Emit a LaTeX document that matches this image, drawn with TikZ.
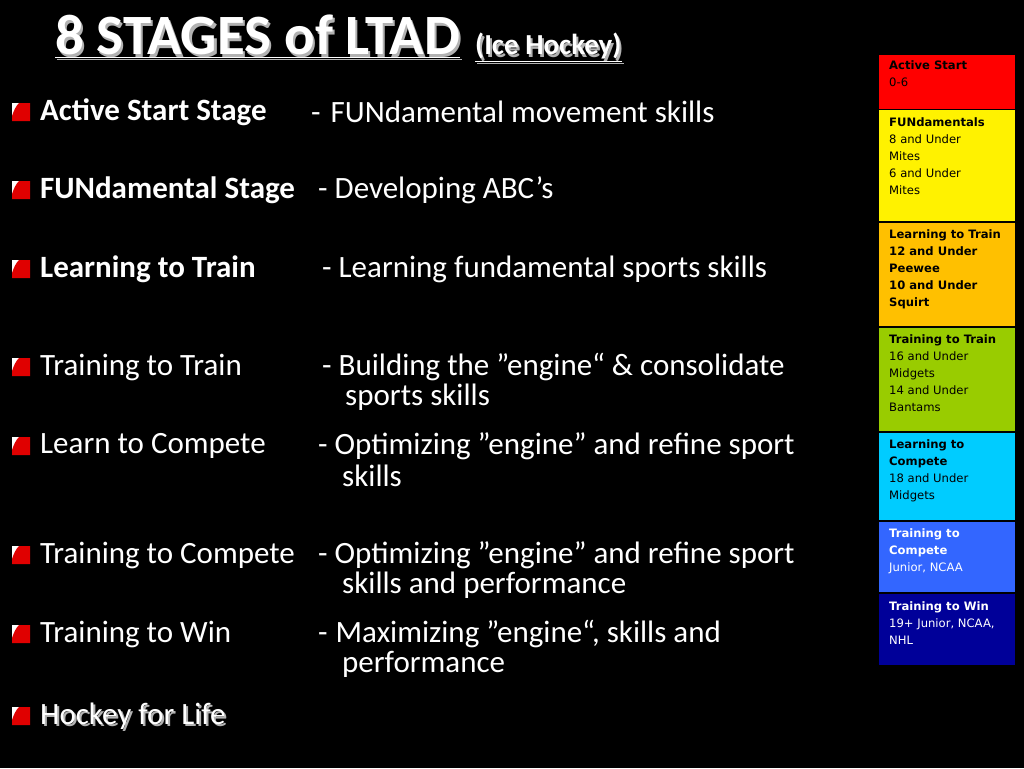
\documentclass[tikz,border=0pt]{standalone}
\usepackage{fontspec}
\setmainfont{Carlito}
\newfontfamily\panelfont{DejaVu Sans}
\definecolor{porange}{HTML}{FFC000}
\definecolor{pgreen}{HTML}{99CC00}
\definecolor{pcyan}{HTML}{00CCFF}
\definecolor{pblue}{HTML}{3366FF}
\definecolor{pnavy}{HTML}{000099}
\definecolor{bred}{HTML}{E00000}
\begin{document}
\begin{tikzpicture}[x=1pt,y=-1pt,
  lab/.style={anchor=west,text=white,font=\fontsize{31}{36}\selectfont,inner sep=0},
  pbox/.style={anchor=north west,minimum width=136,inner sep=0,outer sep=0},
  ptxt/.style={anchor=north west,font=\panelfont\fontsize{11.6}{17}\selectfont,align=left,inner sep=0}]
\fill[black] (0,0) rectangle (1024,768);
\useasboundingbox (0,0) rectangle (1024,768);
% title
\node[anchor=base west,text=gray!60,inner sep=0,font=\bfseries\fontsize{57}{64}\selectfont] at (57,57) {\underline{8 STAGES of LTAD}};
\node[anchor=base west,text=white,inner sep=0,font=\bfseries\fontsize{57}{64}\selectfont] (title) at (55,55) {\underline{8 STAGES of LTAD}};
\node[anchor=base west,text=gray!60,inner sep=0,font=\bfseries\fontsize{29}{34}\selectfont] at (477,57) {\underline{(Ice Hockey)}};
\node[anchor=base west,text=white,inner sep=0,font=\bfseries\fontsize{29}{34}\selectfont] (sub) at (475,55) {\underline{(Ice Hockey)}};
% bullets
\foreach \y in {112,190,269,367,446,555,634,716}{
  \fill[white] (12,\y-9) rectangle (30,\y+9);
  \fill[bred] (19,\y-9) -- (30,\y-9) -- (30,\y+9) -- (12,\y+9) -- (12,\y+4) .. controls (14,\y-2) and (16,\y-6) .. (19,\y-9);
}
% labels
\node[lab,font=\bfseries\fontsize{31}{36}\selectfont] (l1) at (40,112) {Active Start Stage};
\node[lab,font=\bfseries\fontsize{31}{36}\selectfont] (l2) at (40,190) {FUNdamental Stage};
\node[lab,font=\bfseries\fontsize{31}{36}\selectfont] (l3) at (40,269) {Learning to Train};
\node[lab] (l4) at (40,367) {Training to Train};
\node[lab] (l5) at (40,446) {Learn to Compete};
\node[lab] (l6) at (40,555) {Training to Compete};
\node[lab] (l7) at (40,634) {Training to Win};
\node[lab,text=gray!60] at (42,718) {Hockey for Life};
\node[lab] (l8) at (40,716) {Hockey for Life};
% descriptions
\node[lab] (d1) at (311,112) {-\hspace{10pt}FUNdamental movement skills};
\node[lab] (d2) at (318,190) {- Developing ABC’s};
\node[lab] (d3) at (322,269) {- Learning fundamental sports skills};
\node[lab] (d4) at (322,367) {- Building the {\char34}engine“ \& consolidate};
\node[lab] (d4b) at (345,397) {sports skills};
\node[lab] (d5) at (318,446) {- Optimizing {\char34}engine{\char34} and refine sport};
\node[lab] (d5b) at (342,476) {skills};
\node[lab] (d6) at (318,555) {- Optimizing {\char34}engine{\char34} and refine sport};
\node[lab] (d6b) at (342,585) {skills and performance};
\node[lab] (d7) at (318,634) {-\hspace{8pt}Maximizing {\char34}engine“, skills and};
\node[lab] (d7b) at (342,664) {performance};
% panel
\node[pbox,fill=red,minimum height=54] (p1) at (879,55) {};
\node[pbox,fill=yellow,minimum height=111] (p2) at (879,110) {};
\node[pbox,fill=porange,minimum height=103] (p3) at (879,223) {};
\node[pbox,fill=pgreen,minimum height=103] (p4) at (879,328) {};
\node[pbox,fill=pcyan,minimum height=87] (p5) at (879,433) {};
\node[pbox,fill=pblue,minimum height=70] (p6) at (879,522) {};
\node[pbox,fill=pnavy,minimum height=71] (p7) at (879,594) {};
\node[ptxt] at (889,60) {\textbf{Active Start}\\0-6};
\node[ptxt] at (889,117) {\textbf{FUNdamentals}\\8 and Under\\Mites\\6 and Under\\Mites};
\node[ptxt] at (889,229) {\textbf{Learning to Train}\\\textbf{12 and Under}\\\textbf{Peewee}\\\textbf{10 and Under}\\\textbf{Squirt}};
\node[ptxt] at (889,334) {\textbf{Training to Train}\\16 and Under\\Midgets\\14 and Under\\Bantams};
\node[ptxt] at (889,439) {\textbf{Learning to}\\\textbf{Compete}\\18 and Under\\Midgets};
\node[ptxt,text=white] at (889,528) {\textbf{Training to}\\\textbf{Compete}\\Junior, NCAA};
\node[ptxt,text=white] at (889,601) {\textbf{Training to Win}\\19+ Junior, NCAA,\\NHL};
\end{tikzpicture}
\end{document}
